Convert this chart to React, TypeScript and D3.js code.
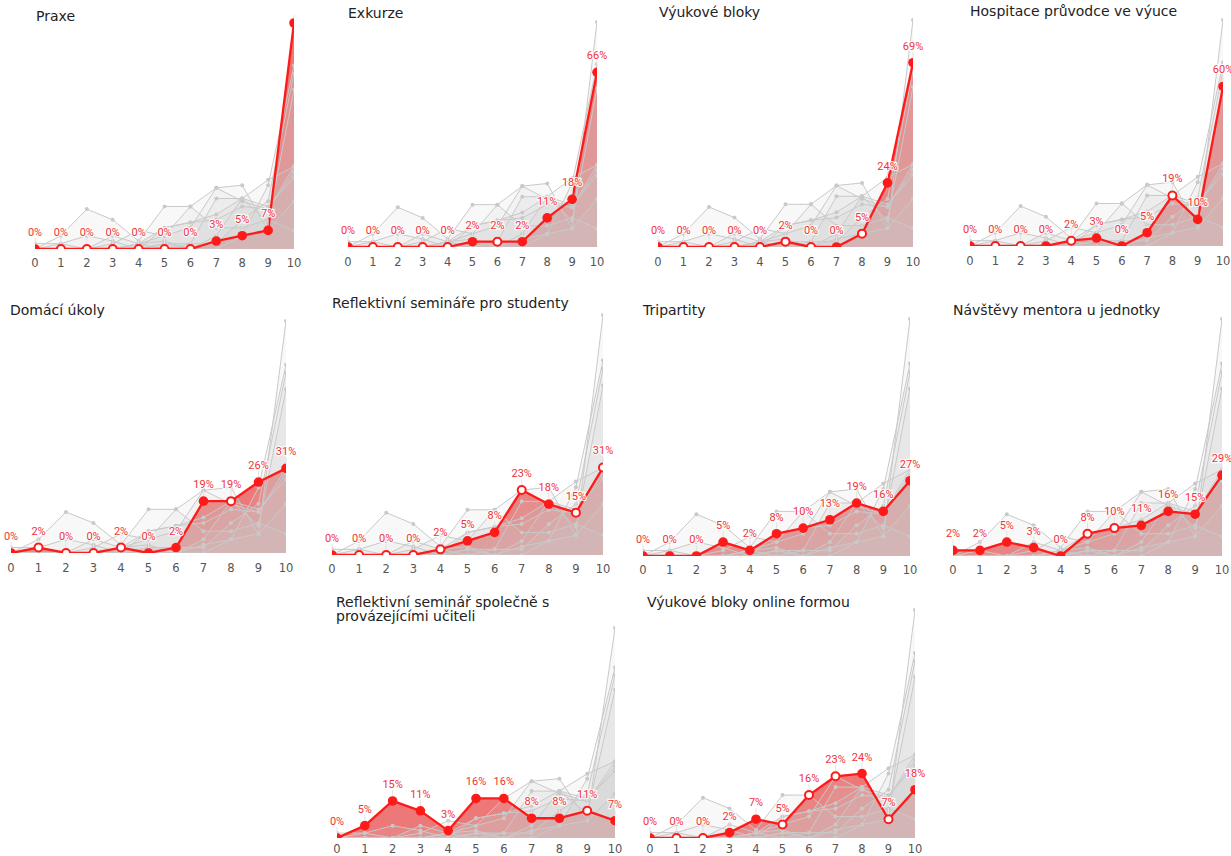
import React from "react";
import * as d3 from "d3";

// ---------- DATA ----------
const xValues = [0, 1, 2, 3, 4, 5, 6, 7, 8, 9, 10];
const xTickLabels = ["0", "1", "2", "3", "4", "5", "6", "7", "8", "9", "10"];

const titles = [
  ["Praxe"],
  ["Exkurze"],
  ["Výukové bloky"],
  ["Hospitace průvodce ve výuce"],
  ["Domácí úkoly"],
  ["Reflektivní semináře pro studenty"],
  ["Tripartity"],
  ["Návštěvy mentora u jednotky"],
  ["Reflektivní seminář společně s", "provázejícími učiteli"],
  ["Výukové bloky online formou"],
];

const praxe = [0, 0, 0, 0, 0, 0, 0, 3, 5, 7, 85];
const exkurze = [0, 0, 0, 0, 0, 2, 2, 2, 11, 18, 66];
const vyukoveBloky = [0, 0, 0, 0, 0, 2, 0, 0, 5, 24, 69];
const hospitace = [0, 0, 0, 0, 2, 3, 0, 5, 19, 10, 60];
const domaciUkoly = [0, 2, 0, 0, 2, 0, 2, 19, 19, 26, 31];
const reflSeminare = [0, 0, 0, 0, 2, 5, 8, 23, 18, 15, 31];
const tripartity = [0, 0, 0, 5, 2, 8, 10, 13, 19, 16, 27];
const navstevy = [2, 2, 5, 3, 0, 8, 10, 11, 16, 15, 29];
const reflSpolecne = [0, 5, 15, 11, 3, 16, 16, 8, 8, 11, 7];
const vyukoveOnline = [0, 0, 0, 2, 7, 5, 16, 23, 24, 7, 18];

// hollow (1) or filled (0) markers of the highlighted series
const praxeHollow = [0, 1, 1, 1, 1, 1, 1, 0, 0, 0, 0];
const exkurzeHollow = [0, 1, 1, 1, 1, 0, 1, 0, 0, 0, 0];
const vyukoveBlokyHollow = [0, 1, 1, 1, 1, 1, 1, 0, 1, 0, 0];
const hospitaceHollow = [0, 1, 1, 0, 1, 0, 0, 0, 1, 0, 0];
const domaciUkolyHollow = [0, 1, 1, 1, 1, 0, 0, 0, 1, 0, 0];
const reflSeminareHollow = [0, 1, 1, 1, 1, 0, 0, 1, 0, 1, 1];
const tripartityHollow = [0, 0, 0, 0, 0, 0, 0, 0, 0, 0, 0];
const navstevyHollow = [0, 0, 0, 0, 0, 1, 1, 0, 0, 0, 0];
const reflSpolecneHollow = [0, 0, 0, 0, 0, 0, 0, 0, 0, 1, 0];
const vyukoveOnlineHollow = [0, 1, 1, 0, 0, 1, 1, 1, 0, 1, 0];

const seriesValues = [
  praxe, exkurze, vyukoveBloky, hospitace, domaciUkoly,
  reflSeminare, tripartity, navstevy, reflSpolecne, vyukoveOnline,
];
const seriesHollow = [
  praxeHollow, exkurzeHollow, vyukoveBlokyHollow, hospitaceHollow, domaciUkolyHollow,
  reflSeminareHollow, tripartityHollow, navstevyHollow, reflSpolecneHollow, vyukoveOnlineHollow,
];
const yMax = 85;

// ---------- LAYOUT ----------
const panelBoxes = [
  { x0: 35, x1: 294, top: 23, base: 249, tx: 36, ty: 21, tick: 18 },
  { x0: 348, x1: 597, top: 22, base: 247, tx: 348, ty: 18, tick: 19 },
  { x0: 658, x1: 913, top: 20, base: 247, tx: 659, ty: 17, tick: 19 },
  { x0: 970, x1: 1223, top: 20, base: 246, tx: 970, ty: 16, tick: 19 },
  { x0: 11, x1: 286, top: 321, base: 553, tx: 10, ty: 315, tick: 19 },
  { x0: 332, x1: 603, top: 315, base: 555, tx: 332, ty: 308, tick: 18 },
  { x0: 643, x1: 910, top: 319, base: 556, tx: 643, ty: 315, tick: 18 },
  { x0: 953, x1: 1222, top: 319, base: 556, tx: 953, ty: 315, tick: 18 },
  { x0: 337, x1: 615, top: 628, base: 838, tx: 336, ty: 607, tick: 15 },
  { x0: 650, x1: 915, top: 610, base: 838, tx: 647, ty: 607, tick: 15 },
];

const RED = "#ff1a1a";
const LABEL_RED = "#f0333a";
const GRAY = "#c9c9c9";

function Panel({ idx }: { idx: number }) {
  const b = panelBoxes[idx];
  const x = d3.scaleLinear().domain([0, 10]).range([b.x0, b.x1]);
  const y = d3.scaleLinear().domain([0, yMax]).range([b.base, b.top]);
  const vals = seriesValues[idx];
  const hollow = seriesHollow[idx];
  const line = d3
    .line<number>()
    .x((_, i) => x(xValues[i]))
    .y((d) => y(d));
  const area = d3
    .area<number>()
    .x((_, i) => x(xValues[i]))
    .y0(b.base)
    .y1((d) => y(d));
  const clipId = `clip-${idx}`;
  const labelClipId = `lclip-${idx}`;
  return (
    <g>
      <defs>
        <clipPath id={clipId}>
          <rect x={b.x0} y={b.top - 30} width={b.x1 - b.x0} height={b.base - b.top + 30} />
        </clipPath>
        <clipPath id={labelClipId}>
          <rect x={b.x0 - 30} y={b.top - 8} width={b.x1 - b.x0 + 60} height={b.base - b.top + 20} />
        </clipPath>
      </defs>
      {titles[idx].map((t, i) => (
        <text
          key={i}
          x={b.tx}
          y={b.ty + i * 14}
          fontFamily="DejaVu Sans"
          fontSize={14}
          fill="#222"
        >
          {t}
        </text>
      ))}
      <g clipPath={`url(#${clipId})`}>
        <path d={area(vals) || ""} fill="#f25a5a" fillOpacity={0.9} />
        {seriesValues.map((s, si) => (
          <path key={"ga" + si} d={area(s) || ""} fill="#cfcfcf" fillOpacity={0.14} />
        ))}
        {seriesValues.map((s, si) => (
          <path key={"gl" + si} d={line(s) || ""} fill="none" stroke={GRAY} strokeWidth={1} />
        ))}
        {seriesValues.map((s, si) =>
          s.map((v, i) => (
            <circle key={"gd" + si + "-" + i} cx={x(xValues[i])} cy={y(v)} r={2} fill={GRAY} />
          ))
        )}
        <path d={line(vals) || ""} fill="none" stroke={RED} strokeWidth={2.3} strokeLinejoin="round" />
        {vals.map((v, i) =>
          hollow[i] ? (
            <circle key={"p" + i} cx={x(xValues[i])} cy={y(v)} r={4} fill="#fff" stroke={RED} strokeWidth={2} />
          ) : (
            <circle key={"p" + i} cx={x(xValues[i])} cy={y(v)} r={4.8} fill={RED} />
          )
        )}
      </g>
      <g clipPath={`url(#${labelClipId})`}>
        {vals.map((v, i) => (
          <line
            key={"ll" + i}
            x1={x(xValues[i])}
            x2={x(xValues[i])}
            y1={y(v) - 11}
            y2={y(v) - 5}
            stroke="#e2e2e2"
            strokeWidth={1}
          />
        ))}
        {vals.map((v, i) => (
          <text
            key={"lb" + i}
            x={x(xValues[i])}
            y={y(v) - 13}
            textAnchor="middle"
            fontFamily="Roboto"
            fontSize={11}
            fill={LABEL_RED}
            stroke="#fff"
            strokeWidth={2.5}
            strokeOpacity={0.85}
            paintOrder="stroke"
          >
            {`${v}%`}
          </text>
        ))}
      </g>
      {xTickLabels.map((t, i) => (
        <text
          key={"t" + i}
          x={x(xValues[i])}
          y={b.base + b.tick}
          textAnchor="middle"
          fontFamily="DejaVu Sans"
          fontSize={11.5}
          fill="#555"
        >
          {t}
        </text>
      ))}
    </g>
  );
}

export default function App() {
  return (
    <svg
      width={1231}
      height={856}
      style={{ position: "absolute", left: 0, top: 0, background: "#fff" }}
    >
      <rect width={1231} height={856} fill="#fff" />
      {panelBoxes.map((_, i) => (
        <Panel key={i} idx={i} />
      ))}
    </svg>
  );
}
